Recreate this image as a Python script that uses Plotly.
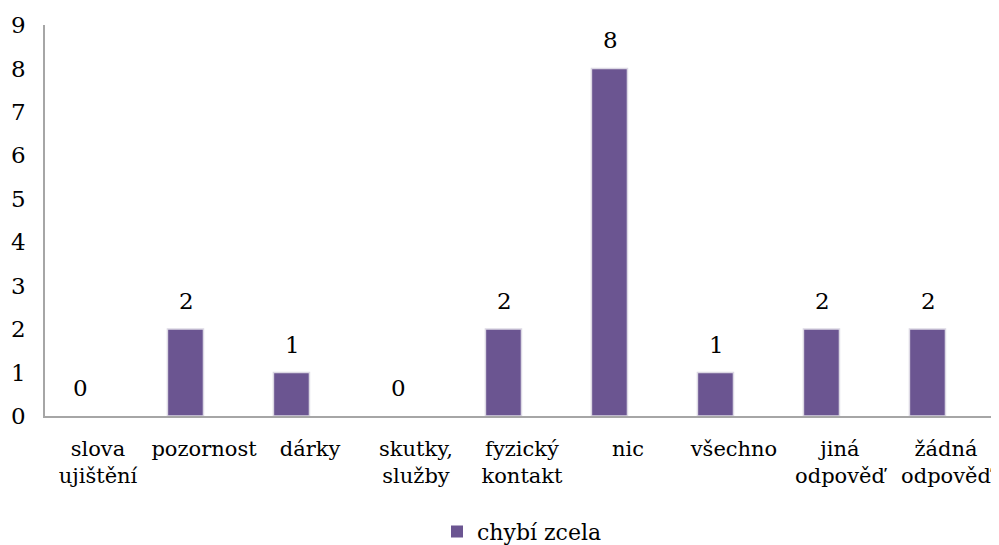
import plotly.graph_objects as go

categories = ["slova<br>ujištění", "pozornost", "dárky", "skutky,<br>služby", "fyzický<br>kontakt",
              "nic", "všechno", "jiná<br>odpověď", "žádná<br>odpověď"]
values = [0, 2, 1, 0, 2, 8, 1, 2, 2]
series_name = "chybí zcela"

FONT = "DejaVu Serif"

fig = go.Figure()
fig.add_trace(go.Bar(
    x=categories, y=values, name=series_name,
    marker=dict(color="#6B5591",
                line=dict(color="#DCD8E4", width=[0 if v == 0 else 1.5 for v in values])),
    width=0.34, offset=-0.345,
))
for c, v in zip(categories, values):
    fig.add_annotation(x=c, y=v, text=str(v), showarrow=False, xref="x", yref="y",
                       xshift=-18, yshift=28, yanchor="middle",
                       font=dict(family=FONT, size=23, color="#000000"))
fig.update_layout(
    width=991, height=537,
    margin=dict(l=37, r=0, t=17, b=129),
    plot_bgcolor="white", paper_bgcolor="white",
    font=dict(family=FONT, size=21, color="#000000"),
    showlegend=True,
    legend=dict(orientation="h", x=0.5, xanchor="center", yref="container", y=0.025,
                yanchor="middle", font=dict(family=FONT, size=22)),
    xaxis=dict(showline=True, linecolor="#A6A6A6", linewidth=1.5, ticks="outside",
               ticklen=13, tickcolor="rgba(0,0,0,0)", automargin=False,
               tickfont=dict(family=FONT, size=21), showgrid=False),
    yaxis=dict(range=[0, 9], dtick=1, showgrid=False, showline=True, linecolor="#A6A6A6",
               linewidth=1.5, zeroline=False, automargin=False,
               tickfont=dict(family=FONT, size=23), ticks="outside", ticklen=13,
               tickcolor="rgba(0,0,0,0)"),
)
fig.write_html("out.html")
